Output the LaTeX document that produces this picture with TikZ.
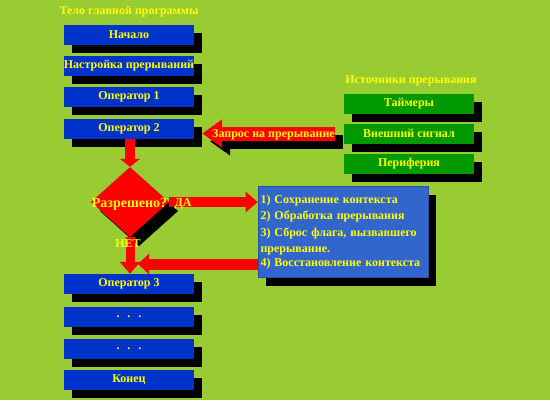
\documentclass[tikz,border=0pt]{standalone}
\usepackage{fontspec}
\setmainfont{Liberation Serif}
\usetikzlibrary{shapes.geometric,arrows.meta,shadows}
\definecolor{bg}{HTML}{99CC33}
\definecolor{dblue}{HTML}{0033CC}
\definecolor{lblue}{HTML}{3366CC}
\definecolor{dgreen}{HTML}{009900}
\definecolor{yel}{HTML}{FFFF00}
\definecolor{rd}{HTML}{FF0000}
\begin{document}
\begin{tikzpicture}[x=1pt,y=-1pt,
  font=\fontsize{12}{14}\selectfont\bfseries,
  shd/.style={drop shadow={shadow xshift=8pt,shadow yshift=-8pt,fill=black,opacity=1}},
  box/.style={rectangle,minimum width=130pt,minimum height=20pt,inner sep=0pt,text=yel,shd},
  bluebox/.style={box,fill=dblue},
  greenbox/.style={box,fill=dgreen},
  lbl/.style={text=yel,inner sep=0pt},
  bigarrow/.style={draw=rd,line width=#1},
]
\fill[bg] (0,0) rectangle (550,400);
\useasboundingbox (0,0) rectangle (550,400);

% titles
\node[lbl] (t1) at (129,12) {Тело главной программы};
\node[lbl] (t2) at (411,81) {Источники прерывания};

% main program boxes
\node[bluebox] (start) at (129,35) {Начало};
\node[bluebox] (setup) at (129,66) {Настройка прерываний};
\node[bluebox] (op1) at (129,97) {Оператор 1};
\node[bluebox] (op2) at (129,129) {Оператор 2};
\node[bluebox] (op3) at (129,284) {Оператор 3};
\node[bluebox] (d1) at (129,317) {.\hspace{8pt}.\hspace{8pt}.};
\node[bluebox] (d2) at (129,349) {.\hspace{8pt}.\hspace{8pt}.};
\node[bluebox] (end) at (129,380) {Конец};

% sources
\node[greenbox] (tim) at (409,103.5) {Таймеры};
\node[greenbox] (ext) at (409,133.5) {Внешний сигнал};
\node[greenbox] (per) at (409,163.5) {Периферия};

% decision (shadow drawn directly, then the diamond)
\fill[black] (139,176) -- (178,211) -- (139,246) -- (100,211) -- cycle;
\node[diamond,fill=rd,minimum width=78pt,minimum height=70pt,inner sep=0pt] (dia) at (130,202) {};
\node[lbl,font=\fontsize{14}{16}\selectfont\bfseries] (q) at (129.5,204) {Разрешено?};

% interrupt handler
\node[rectangle,fill=lblue,draw=lblue!80!black,line width=0.6pt,minimum width=170pt,minimum height=91pt,
      text width=165pt,inner xsep=2.5pt,inner ysep=0pt,align=left,text=yel,shd] (int) at (343,232)
  {\fontsize{12}{16.3}\selectfont 1) Сохранение контекста\\2) Обработка прерывания\\3) Сброс флага, вызвавшего\\прерывание.\\4) Восстановление контекста};

% request arrow (with shadow)
\draw[line width=14pt,draw=black,shorten <=9pt,shorten >=8pt,-{Triangle[length=20pt,width=27pt]},
      transform canvas={xshift=8pt,yshift=-8pt}] (ext.west) -- (ext.west -| op2.east);
\draw[bigarrow=14pt,shorten <=9pt,shorten >=8pt,-{Triangle[length=20pt,width=27pt,fill=rd]}]
      (ext.west) -- node[lbl,pos=0.47,yshift=-1pt]{Запрос на прерывание} (ext.west -| op2.east);

% flow arrows
\draw[bigarrow=10pt,-{Triangle[length=8pt,width=20pt,fill=rd]}] (op2.south -| dia.north) -- (dia.north);
\draw[bigarrow=10pt,-{Triangle[length=12pt,width=20pt,fill=rd]}] (dia.east) -- (dia.east -| int.west);
\coordinate (ret) at (258,264);
\draw[bigarrow=11pt,shorten >=8pt,-{Triangle[length=11pt,width=20pt,fill=rd]}] (ret) -- (ret -| dia.south);
\draw[bigarrow=9pt,-{Triangle[length=12pt,width=20pt,fill=rd]}] (dia.south) -- (dia.south |- op3.north);

\node[lbl] (da) at (183,204) {ДА};
\node[lbl] (net) at (128,244) {НЕТ};
\end{tikzpicture}
\end{document}
